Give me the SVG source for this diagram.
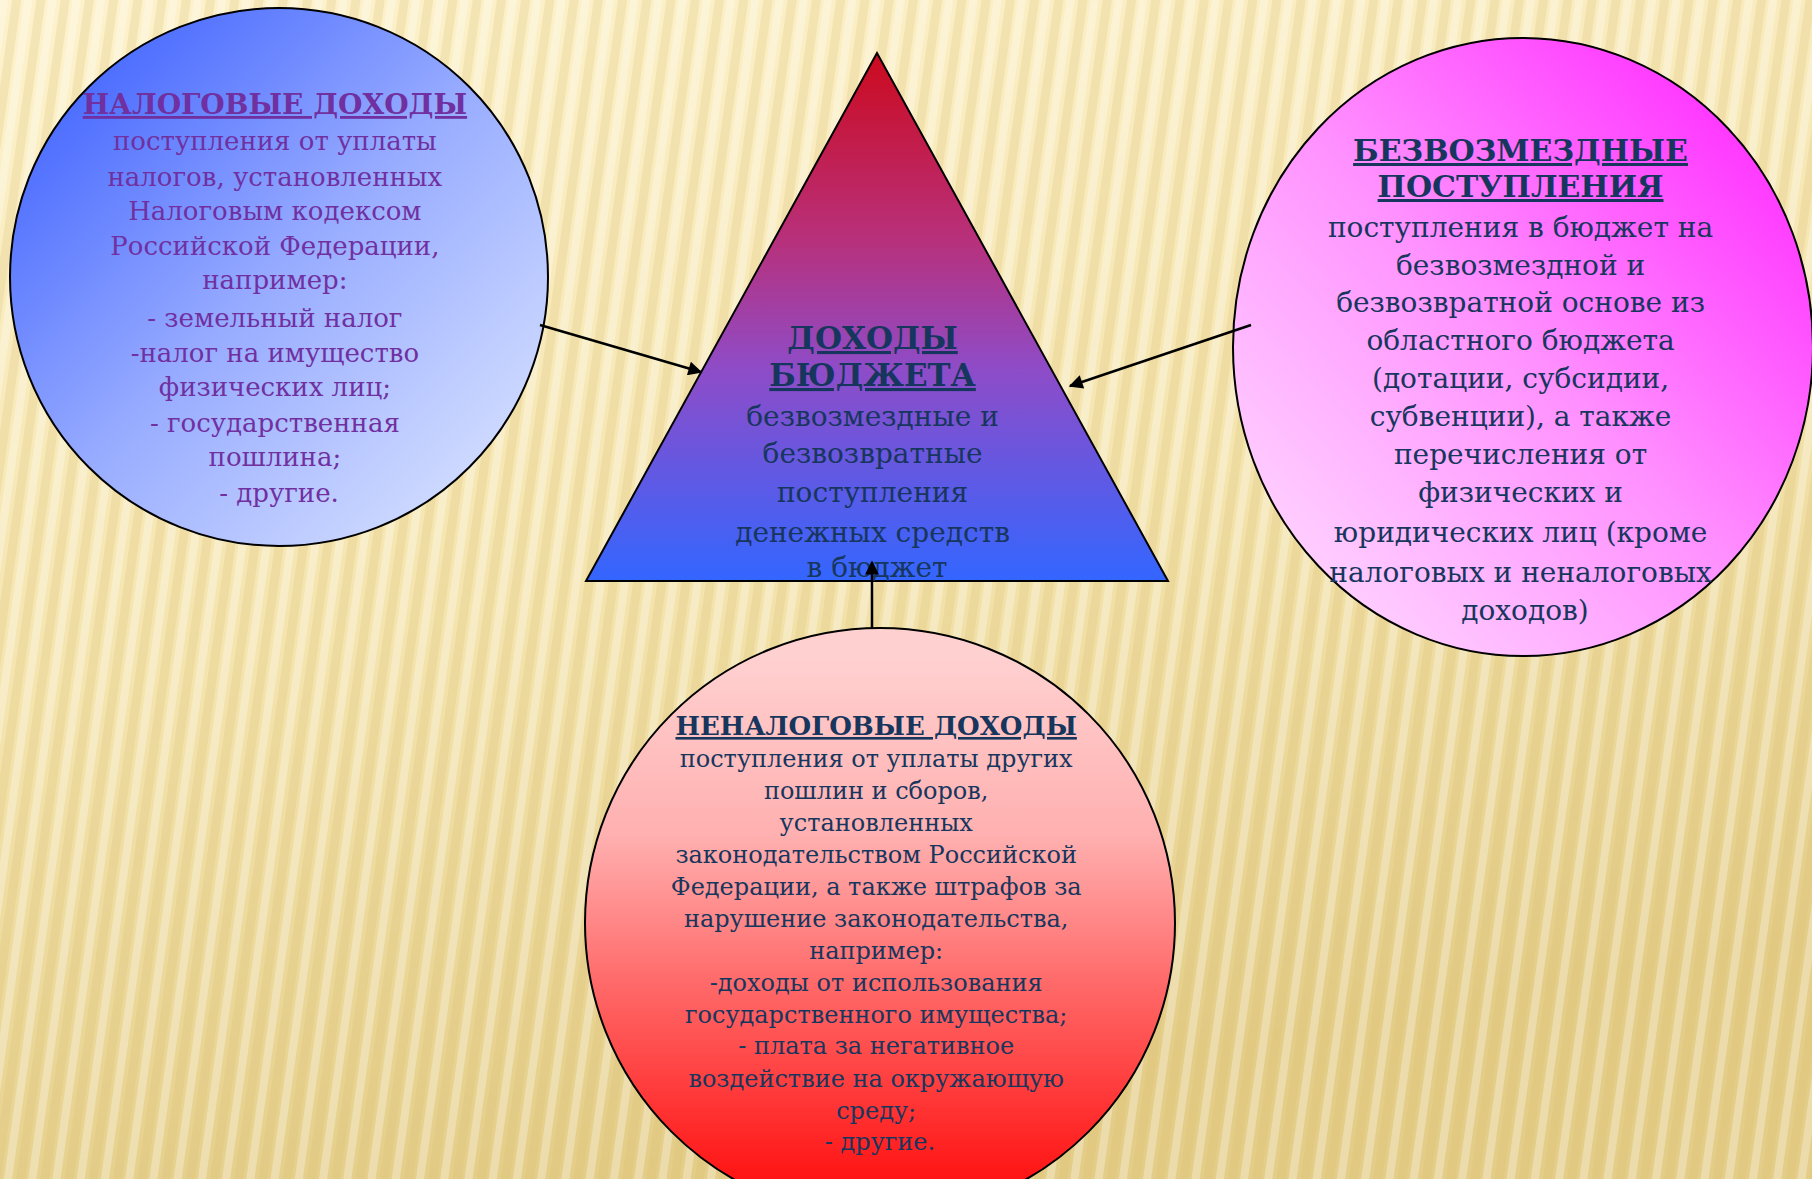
<svg xmlns="http://www.w3.org/2000/svg" width="1812" height="1179" viewBox="0 0 1812 1179">
<defs>
<linearGradient id="bg" x1="0" y1="0" x2="0.3" y2="1">
<stop offset="0" stop-color="#FDF2CC"/>
<stop offset="0.55" stop-color="#F4E4AE"/>
<stop offset="1" stop-color="#E4CD88"/>
</linearGradient>
<pattern id="stripes" width="24" height="24" patternUnits="userSpaceOnUse" patternTransform="rotate(8)">
<rect x="0" y="0" width="8" height="24" fill="#FFFFFF" opacity="0.3"/>
<rect x="12" y="0" width="9" height="24" fill="#D6BC6E" opacity="0.22"/>
</pattern>
<linearGradient id="gLeft" x1="0" y1="0" x2="1" y2="1">
<stop offset="0.1" stop-color="#4466FF"/>
<stop offset="0.5" stop-color="#98ACFF"/>
<stop offset="0.85" stop-color="#CCD8FF"/>
</linearGradient>
<linearGradient id="gRight" x1="1" y1="0" x2="0" y2="1">
<stop offset="0.1" stop-color="#FF2EFF"/>
<stop offset="0.5" stop-color="#FF90FF"/>
<stop offset="0.85" stop-color="#FFCCFF"/>
</linearGradient>
<linearGradient id="gTri" x1="0" y1="0" x2="0" y2="1">
<stop offset="0" stop-color="#CC0A1E"/>
<stop offset="0.35" stop-color="#B8307A"/>
<stop offset="0.6" stop-color="#8E4CC8"/>
<stop offset="1" stop-color="#3366FF"/>
</linearGradient>
<linearGradient id="gBottom" x1="0" y1="0" x2="0" y2="1">
<stop offset="0.05" stop-color="#FFD0D0"/>
<stop offset="0.35" stop-color="#FFB0B0"/>
<stop offset="0.6" stop-color="#FF6A6A"/>
<stop offset="0.95" stop-color="#FF1010"/>
</linearGradient>
<marker id="arrB" viewBox="0 0 10 10" refX="9" refY="5" markerWidth="16" markerHeight="14" markerUnits="userSpaceOnUse" orient="auto">
<path d="M0,0 L10,5 L0,10 z" fill="#000"/>
</marker>
</defs>
<style>
.t{font-family:"DejaVu Serif","Liberation Serif",serif;text-anchor:middle;}
.h{font-weight:bold;text-decoration:underline;}
.purple{fill:#7030A0;}
.navy{fill:#17365D;}
.shape{stroke:#000;stroke-width:2;}
.conn{stroke:#000;stroke-width:2.5;fill:none;}
</style>
<rect x="0" y="0" width="1812" height="1179" fill="url(#bg)"/>
<rect x="0" y="0" width="1812" height="1179" fill="url(#stripes)"/>

<g id="node-nalog">
<circle class="shape" cx="279" cy="277" r="269" fill="url(#gLeft)"/>
<text class="t purple" font-size="26">
<tspan class="h" x="279" y="114" font-size="28">НАЛОГОВЫЕ ДОХОДЫ</tspan>
<tspan x="279" y="150">поступления от уплаты</tspan>
<tspan x="279" y="186">налогов, установленных</tspan>
<tspan x="279" y="220">Налоговым кодексом</tspan>
<tspan x="279" y="255">Российской Федерации,</tspan>
<tspan x="279" y="289">например:</tspan>
<tspan x="279" y="327">- земельный налог</tspan>
<tspan x="279" y="362">-налог на имущество</tspan>
<tspan x="279" y="396">физических лиц;</tspan>
<tspan x="279" y="432">- государственная</tspan>
<tspan x="279" y="466">пошлина;</tspan>
<tspan x="279" y="502">- другие.</tspan>
</text>
</g>

<g id="node-dohody">
<polygon class="shape" points="877,53 586,581 1168,581" fill="url(#gTri)"/>
<text class="t navy" font-size="28">
<tspan class="h" x="877" y="349" font-size="31">ДОХОДЫ</tspan>
<tspan class="h" x="877" y="386" font-size="31">БЮДЖЕТА</tspan>
<tspan x="877" y="426">безвозмездные и</tspan>
<tspan x="877" y="463">безвозвратные</tspan>
<tspan x="877" y="502">поступления</tspan>
<tspan x="877" y="542">денежных средств</tspan>
<tspan x="877" y="577">в бюджет</tspan>
</text>
</g>

<g id="node-bezvozmezdnye">
<ellipse class="shape" cx="1523" cy="347" rx="290" ry="309" fill="url(#gRight)"/>
<text class="t navy" font-size="28">
<tspan class="h" x="1525" y="161" font-size="30">БЕЗВОЗМЕЗДНЫЕ</tspan>
<tspan class="h" x="1525" y="197" font-size="30">ПОСТУПЛЕНИЯ</tspan>
<tspan x="1525" y="237">поступления в бюджет на</tspan>
<tspan x="1525" y="275">безвозмездной и</tspan>
<tspan x="1525" y="312">безвозвратной основе из</tspan>
<tspan x="1525" y="350">областного бюджета</tspan>
<tspan x="1525" y="388">(дотации, субсидии,</tspan>
<tspan x="1525" y="426">субвенции), а также</tspan>
<tspan x="1525" y="464">перечисления от</tspan>
<tspan x="1525" y="502">физических и</tspan>
<tspan x="1525" y="542">юридических лиц (кроме</tspan>
<tspan x="1525" y="582">налоговых и неналоговых</tspan>
<tspan x="1525" y="620">доходов)</tspan>
</text>
</g>

<g id="node-nenalog">
<circle class="shape" cx="880" cy="923" r="295" fill="url(#gBottom)"/>
<text class="t navy" font-size="24">
<tspan class="h" x="880" y="735" font-size="26">НЕНАЛОГОВЫЕ ДОХОДЫ</tspan>
<tspan x="880" y="767">поступления от уплаты других</tspan>
<tspan x="880" y="799">пошлин и сборов,</tspan>
<tspan x="880" y="831">установленных</tspan>
<tspan x="880" y="863">законодательством Российской</tspan>
<tspan x="880" y="895">Федерации, а также штрафов за</tspan>
<tspan x="880" y="927">нарушение законодательства,</tspan>
<tspan x="880" y="959">например:</tspan>
<tspan x="880" y="991">-доходы от использования</tspan>
<tspan x="880" y="1023">государственного имущества;</tspan>
<tspan x="880" y="1054">- плата за негативное</tspan>
<tspan x="880" y="1087">воздействие на окружающую</tspan>
<tspan x="880" y="1119">среду;</tspan>
<tspan x="880" y="1150">- другие.</tspan>
</text>
</g>

<g id="connectors">
<line class="conn" x1="540" y1="325" x2="701" y2="372" marker-end="url(#arrB)"/>
<line class="conn" x1="1251" y1="325" x2="1070" y2="386" marker-end="url(#arrB)"/>
<line class="conn" x1="872" y1="628" x2="872" y2="562" marker-end="url(#arrB)"/>
</g>
</svg>
